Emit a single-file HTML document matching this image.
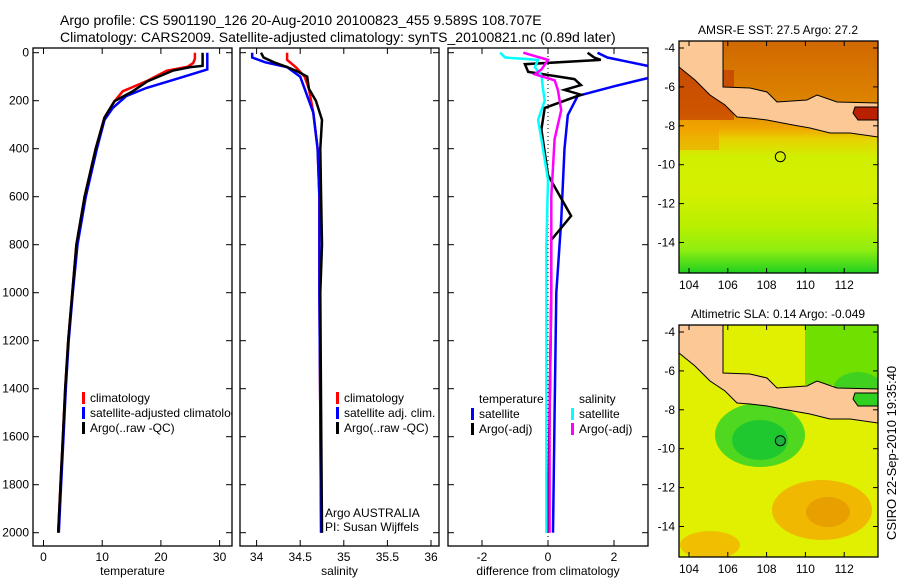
<!DOCTYPE html>
<html><head><meta charset="utf-8">
<style>
body{margin:0;background:#fff;}
svg text{font-family:"Liberation Sans",sans-serif;fill:#000;}
</style></head>
<body>
<svg id="chart" width="900" height="580" viewBox="0 0 900 580" xmlns="http://www.w3.org/2000/svg">
<text x="60" y="25" font-size="14">Argo profile: CS 5901190_126 20-Aug-2010 20100823_455 9.589S 108.707E</text>
<text x="60" y="42" font-size="14">Climatology: CARS2009. Satellite-adjusted climatology: synTS_20100821.nc (0.89d later)</text>
<g id="panels"></g>
<g id="maps"></g>
<text transform="translate(896,540) rotate(-90)" font-size="13">CSIRO 22-Sep-2010 19:35:40</text>
</svg>
<script>
// depth axis (shared)
const depthTicks=[0,200,400,600,800,1000,1200,1400,1600,1800,2000];
// temperature panel
const tempTicks=[0,10,20,30];
const tClimD=[0,25,43,59,75,119,161,202,270,400,600,800,1000,1200,1400,1600,1800,2000];
const tClimV=[25.8,25.8,25.5,24.5,21,17.5,13.5,12.1,10.4,8.9,7.0,5.6,4.9,4.2,3.7,3.3,2.9,2.5];
const tSatD=[0,70,105,147,181,230,280,400,600,800,1000,1200,1400,1600,1800,2000];
const tSatV=[27.9,27.9,23.2,17.5,14.1,11.8,10.4,9.1,7.2,5.8,5.0,4.3,3.8,3.4,3.0,2.6];
const tArgD=[0,55,60,75,119,161,202,270,400,600,800,1000,1200,1400,1600,1800,2000];
const tArgV=[27.1,27.1,25,22,17.7,15.2,12.1,10.4,8.9,7.0,5.6,4.9,4.2,3.7,3.3,2.9,2.5];
// salinity panel
const salTicks=[34,34.5,35,35.5,36];
const sClimD=[0,30,60,100,150,250,400,600,800,1000,1500,2000];
const sClimV=[34.35,34.35,34.45,34.55,34.6,34.65,34.7,34.72,34.72,34.72,34.73,34.74];
const sSatD=[0,20,40,60,100,150,250,400,600,800,1000,1500,2000];
const sSatV=[33.95,33.95,34.1,34.35,34.5,34.55,34.65,34.7,34.72,34.72,34.72,34.73,34.74];
const sArgD=[0,20,40,60,80,100,150,200,280,400,600,800,1000,1500,2000];
const sArgV=[34.05,34.08,34.2,34.35,34.48,34.58,34.6,34.68,34.75,34.73,34.74,34.75,34.73,34.74,34.75];
// difference panel
const diffTicks=[-2,0,2];
const dTSatD=[0,20,40,60,80,100,140,180,260,400,700,1000,1500,2000];
const dTSatV=[1.5,1.8,2.5,3.2,3.2,3.2,2.0,0.9,0.6,0.5,0.4,0.25,0.2,0.15];
const dTArgD=[0,20,30,48,80,110,135,155,175,230,320,510,680,780,1000,1500,2000];
const dTArgV=[1.2,1.4,1.6,-0.7,-0.6,0.8,1.0,0.5,1.0,-0.1,-0.2,0,0.7,0.1,0.1,0.05,0];
const dSSatD=[0,20,30,60,95,150,200,280,360,530,800,1200,2000];
const dSSatV=[-1.45,-1.3,-0.3,-0.4,-0.2,-0.15,-0.1,-0.3,-0.2,0,-0.05,-0.05,-0.05];
const dSArgD=[0,30,50,70,90,115,155,240,360,600,1000,1500,2000];
const dSArgV=[-0.75,0,-0.1,-0.2,-0.4,0.2,0.3,0.4,0.2,0.1,0.1,0.05,0.05];

const NS="http://www.w3.org/2000/svg";
const root=document.getElementById('panels');
function mk(tag,attrs,parent){const e=document.createElementNS(NS,tag);for(const k in attrs)e.setAttribute(k,attrs[k]);(parent||root).appendChild(e);return e;}
const Y=d=>52.7+d*0.24;
const PTOP=48,PBOT=546;

function panel(name,x0,x1,xs,ticks,label,labels){
  const g=mk('g',{});
  
  
  const fr=mk('rect',{x:x0,y:PTOP,width:x1-x0,height:PBOT-PTOP,fill:'none',stroke:'#000','stroke-width':1.3},g);
  
  
  depthTicks.forEach(d=>{
    mk('line',{x1:x0,x2:x0+6,y1:Y(d),y2:Y(d),stroke:'#000'},g);
    mk('line',{x1:x1-6,x2:x1,y1:Y(d),y2:Y(d),stroke:'#000'},g);
    if(name==='temperature'){
      const t=mk('text',{x:x0-4,y:Y(d)+4,'font-size':12,'text-anchor':'end'},g);
      t.textContent=d;
      
      
    }
  });
  ticks.forEach((v,i)=>{
    const x=xs(v);
    mk('line',{x1:x,x2:x,y1:PBOT,y2:PBOT-6,stroke:'#000'},g);
    mk('line',{x1:x,x2:x,y1:PTOP,y2:PTOP+6,stroke:'#000'},g);
    const t=mk('text',{x:x,y:PBOT+15,'font-size':12,'text-anchor':'middle'},g);
    t.textContent=labels?labels[i]:v;
    
    
  });
  const t=mk('text',{x:(x0+x1)/2,y:PBOT+29,'font-size':12,'text-anchor':'middle'},g);
  t.textContent=label;
  
  
  const cid='clip-'+name;
  const cp=mk('clipPath',{id:cid},g);mk('rect',{x:x0,y:PTOP,width:x1-x0,height:PBOT-PTOP},cp);
  return {g,cid};
}
function series(p,xs,D,V,color,name,w){
  const pts=D.map((d,i)=>xs(V[i]).toFixed(1)+','+Y(d).toFixed(1)).join(' ');
  const l=mk('polyline',{points:pts,fill:'none',stroke:color,'stroke-width':w||2.5,'clip-path':'url(#'+p.cid+')'},p.g);
  
  
}
function legend(p,x,y,items){
  items.forEach((it,i)=>{
    const yy=y+i*15;
    if(it[1]) mk('rect',{x:x,y:yy-10,width:3,height:12,fill:it[1]},p.g);
    const t=mk('text',{x:x+8,y:yy,'font-size':12,'clip-path':'url(#'+p.cid+')'},p.g);
    t.textContent=it[0];
    
    
  });
}
// temperature
const xT=v=>43.5+v*5.87;
const p1=panel('temperature',33,232,xT,tempTicks,'temperature');
series(p1,xT,tClimD,tClimV,'#f00','temp-climatology-line');
series(p1,xT,tSatD,tSatV,'#00f','temp-satellite-line');
series(p1,xT,tArgD,tArgV,'#000','temp-argo-line');
legend(p1,82,402,[['climatology','#f00'],['satellite-adjusted climatology','#00f'],['Argo(..raw -QC)','#000']]);
// salinity
const xS=v=>256.6+(v-34)*87.2;
const p2=panel('salinity',240,439,xS,salTicks,'salinity',['34','34.5','35','35.5','36']);
series(p2,xS,sClimD,sClimV,'#f00','sal-climatology-line');
series(p2,xS,sSatD,sSatV,'#00f','sal-satellite-line');
series(p2,xS,sArgD,sArgV,'#000','sal-argo-line');
legend(p2,336,402,[['climatology','#f00'],['satellite adj. clim.','#00f'],['Argo(..raw -QC)','#000']]);
{const t=mk('text',{x:325,y:517,'font-size':12},p2.g);t.textContent='Argo AUSTRALIA';
 const t2=mk('text',{x:325,y:531,'font-size':12},p2.g);t2.textContent='PI: Susan Wijffels';}
// difference
const xD=v=>548+v*33;
const p3=panel('difference',448,648,xD,diffTicks,'difference from climatology');
mk('line',{x1:xD(0),x2:xD(0),y1:PTOP,y2:PBOT,stroke:'#000','stroke-dasharray':'1,3'},p3.g);
series(p3,xD,dTSatD,dTSatV,'#00f','diff-temp-satellite-line');
series(p3,xD,dTArgD,dTArgV,'#000','diff-temp-argo-line');
series(p3,xD,dSSatD,dSSatV,'#0ff','diff-sal-satellite-line');
series(p3,xD,dSArgD,dSArgV,'#f0f','diff-sal-argo-line');
legend(p3,471,403,[['temperature',null],['satellite','#00f'],['Argo(-adj)','#000']]);
legend(p3,571,403,[['salinity',null],['satellite','#0ff'],['Argo(-adj)','#f0f']]);

// maps
const mroot=document.getElementById('maps');
const lonTicks=[104,106,108,110,112],latTicks=[-4,-6,-8,-10,-12,-14];
const landPts=[[679,30],[723,30],[723,87],[750,88],[767,92],[777,102],[807,100],[817,95],[837,102],[878,103],[878,107],[855,107],[853,113],[858,120],[878,120],[878,137],[850,133],[830,133],[810,128],[793,125],[767,120],[750,118],[737,117],[725,105],[710,95],[695,80],[679,67]];
function map(name,top,bot,lat0y,title,bg,off){
  const g=mk('g',{},mroot);
  
  
  const X=lon=>689+(lon-104)*19.4, Yl=lat=>lat0y+(-4-lat)*19.45;
  const cid='clip-'+name;
  const cp=mk('clipPath',{id:cid},g);mk('rect',{x:679,y:top,width:199,height:bot-top},cp);
  const c=mk('g',{'clip-path':'url(#'+cid+')'},g);
  bg(c,X,Yl);
  mk('polygon',{points:landPts.map(p=>p[0]+','+(p[1]+off)).join(' '),fill:'#fcc896',stroke:'#000','stroke-width':1},c);
  mk('circle',{cx:X(108.707),cy:Yl(-9.589),r:5,fill:name==='sla-map'?'#1fb040':'none',stroke:'#000','stroke-width':1},c);
  mk('rect',{x:679,y:top,width:199,height:bot-top,fill:'none',stroke:'#000','stroke-width':1.3},g);
  lonTicks.forEach(l=>{mk('line',{x1:X(l),x2:X(l),y1:bot,y2:bot-5,stroke:'#000'},g);mk('line',{x1:X(l),x2:X(l),y1:top,y2:top+5,stroke:'#000'},g);
    const t=mk('text',{x:X(l),y:bot+16,'font-size':12,'text-anchor':'middle'},g);t.textContent=l;});
  latTicks.forEach(l=>{mk('line',{x1:679,x2:684,y1:Yl(l),y2:Yl(l),stroke:'#000'},g);mk('line',{x1:873,x2:878,y1:Yl(l),y2:Yl(l),stroke:'#000'},g);
    const t=mk('text',{x:675,y:Yl(l)+4,'font-size':12,'text-anchor':'end'},g);t.textContent=l;});
  const t=mk('text',{x:778,y:top-7,'font-size':12,'text-anchor':'middle'},g);t.textContent=title;
}
map('sst-map',41,273,48,'AMSR-E SST: 27.5  Argo: 27.2',(c,X,Yl)=>{
  const lg=mk('linearGradient',{id:'sstg',x1:0,y1:0,x2:0,y2:1},c);
  [[0,'#d06800'],[0.3,'#e08800'],[0.38,'#f0a800'],[0.42,'#e8d000'],[0.5,'#d0f000'],[0.65,'#d4f000'],[0.8,'#b8f000'],[0.9,'#90ee10'],[1,'#20d020']].forEach(s=>mk('stop',{offset:s[0],'stop-color':s[1]},lg));
  mk('rect',{x:679,y:41,width:199,height:232,fill:'url(#sstg)'},c);
  mk('rect',{x:679,y:70,width:55,height:50,fill:'#c03000',opacity:0.6},c);
  mk('rect',{x:679,y:120,width:40,height:30,fill:'#f0a000',opacity:0.6},c);
  mk('rect',{x:850,y:105,width:28,height:18,fill:'#b82000'},c);
},0);
map('sla-map',325,557,332,'Altimetric SLA: 0.14  Argo: -0.049',(c,X,Yl)=>{
  mk('rect',{x:679,y:325,width:199,height:232,fill:'#e0f000'},c);
  mk('rect',{x:805,y:325,width:73,height:60,fill:'#70e000'},c);
  mk('ellipse',{cx:760,cy:435,rx:45,ry:32,fill:'#50d820'},c);
  mk('ellipse',{cx:760,cy:440,rx:28,ry:20,fill:'#20c830'},c);
  mk('ellipse',{cx:822,cy:510,rx:50,ry:30,fill:'#f0b800'},c);
  mk('ellipse',{cx:828,cy:512,rx:22,ry:15,fill:'#e8a000'},c);
  mk('ellipse',{cx:858,cy:390,rx:25,ry:18,fill:'#40d020'},c);
  mk('ellipse',{cx:710,cy:545,rx:30,ry:14,fill:'#f0c000'},c);
  mk('rect',{x:850,y:390,width:28,height:18,fill:'#30d020'},c);
},286);
</script>
</body></html>
